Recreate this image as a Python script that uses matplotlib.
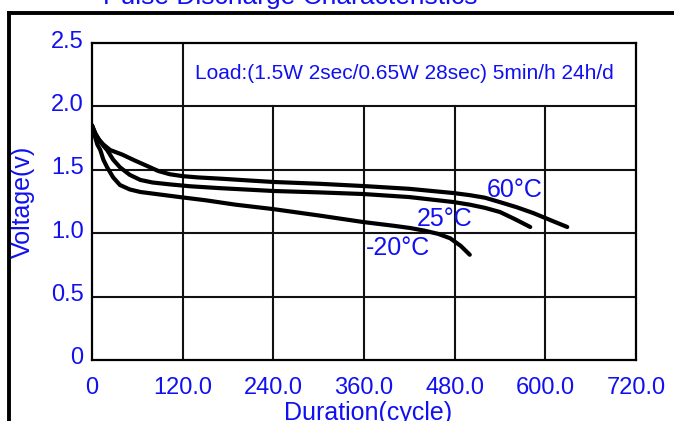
import matplotlib
matplotlib.use("Agg")
import matplotlib.pyplot as plt
import matplotlib.transforms as mtransforms
from matplotlib.lines import Line2D

plt.rcParams['font.family'] = ['Liberation Sans', 'DejaVu Sans']

BLUE = "#1010f0"

# curve readings (cycles, volts)
x_60 = [0, 4, 9, 15, 24, 40, 56, 73, 88, 103, 120, 140, 170, 210, 240, 300, 359,
        420, 478, 500, 520, 540, 562, 584, 606, 629]
v_60 = [1.85, 1.79, 1.74, 1.70, 1.656, 1.62, 1.575, 1.53, 1.49, 1.465, 1.45, 1.44, 1.43,
        1.415, 1.404, 1.39, 1.372, 1.35, 1.317, 1.30, 1.28, 1.245, 1.205, 1.159, 1.105, 1.049]

x_25 = [0, 5, 10, 15, 20, 28, 37, 50, 64, 80, 103, 130, 170, 240, 300, 359,
        420, 478, 500, 520, 540, 560, 580]
v_25 = [1.85, 1.78, 1.73, 1.69, 1.656, 1.58, 1.52, 1.46, 1.42, 1.40, 1.385, 1.37, 1.355,
        1.333, 1.322, 1.309, 1.285, 1.246, 1.225, 1.20, 1.167, 1.11, 1.049]

x_m20 = [0, 3, 7, 11, 15, 20, 28, 37, 50, 64, 90, 116, 150, 190, 240, 300, 359,
         400, 421, 440, 458, 474, 488, 500]
v_m20 = [1.85, 1.78, 1.70, 1.656, 1.58, 1.52, 1.44, 1.38, 1.345, 1.325, 1.305, 1.285,
         1.26, 1.225, 1.19, 1.14, 1.088, 1.058, 1.041, 1.02, 0.995, 0.96, 0.90, 0.83]

x_ticks = [0, 120, 240, 360, 480, 600, 720]
x_tick_labels = ["0", "120.0", "240.0", "360.0", "480.0", "600.0", "720.0"]
y_ticks = [0, 0.5, 1.0, 1.5, 2.0, 2.5]
y_tick_labels = ["0", "0.5", "1.0", "1.5", "2.0", "2.5"]

fig = plt.figure(figsize=(6.74, 4.21), dpi=100)
ax = fig.add_axes([92 / 674, 61 / 421, 544 / 674, 317 / 421])
ax.set_xlim(0, 720)
ax.set_ylim(0, 2.5)

# grid: full-width horizontals, verticals stop under the load box except at 120
for yv in y_ticks[1:-1]:
    ax.axhline(yv, color="#111111", lw=1.5, zorder=1)
ax.plot([120, 120], [0, 2.5], color="#111111", lw=1.5, zorder=1)
for xv in x_ticks[2:-1]:
    ax.plot([xv, xv], [0, 2.0], color="#111111", lw=1.5, zorder=1)

for xs, vs in [(x_60, v_60), (x_25, v_25), (x_m20, v_m20)]:
    ax.plot(xs, vs, color="black", lw=3.0, solid_capstyle="round",
            solid_joinstyle="round", zorder=3)

for sp in ax.spines.values():
    sp.set_linewidth(1.6)
    sp.set_color("black")

ax.set_xticks(x_ticks)
ax.set_xticklabels(x_tick_labels)
ax.set_yticks(y_ticks)
ax.set_yticklabels(y_tick_labels)
ax.tick_params(axis="both", length=0, labelsize=17, labelcolor=BLUE)
ax.tick_params(axis="x", pad=12)
ax.tick_params(axis="y", pad=6)
shift = mtransforms.ScaledTranslation(0, 4 / 100, fig.dpi_scale_trans)
for lab in ax.get_yticklabels():
    lab.set_transform(lab.get_transform() + shift)

ax.set_ylabel("Voltage(v)", fontsize=18, color=BLUE, va="center")
ax.yaxis.set_label_coords(-0.127, 0.5)
ax.set_xlabel("Duration(cycle)", fontsize=18, color=BLUE, va="center")
ax.xaxis.set_label_coords(0.507, -0.166)

ax.text(414, 2.263, "Load:(1.5W 2sec/0.65W 28sec) 5min/h 24h/d",
        fontsize=15, color=BLUE, ha="center", va="center")
ax.text(560, 1.34, "60°C", fontsize=18, color=BLUE, ha="center", va="center")
ax.text(467, 1.112, "25°C", fontsize=18, color=BLUE, ha="center", va="center")
ax.text(405, 0.883, "-20°C", fontsize=18, color=BLUE, ha="center", va="center")

fig.text(290 / 674, 1 - 4 / 421, "Pulse Discharge Characteristics",
         fontsize=19, color=BLUE, ha="center", va="baseline")

# outer frame (top and left edges visible)
fig.add_artist(Line2D([9 / 674, 1.0], [1 - 13 / 421, 1 - 13 / 421],
                      transform=fig.transFigure, color="black", lw=2.8))
fig.add_artist(Line2D([9 / 674, 9 / 674], [0, 1 - 13 / 421],
                      transform=fig.transFigure, color="black", lw=2.8))

fig.savefig("out.png", dpi=100)
